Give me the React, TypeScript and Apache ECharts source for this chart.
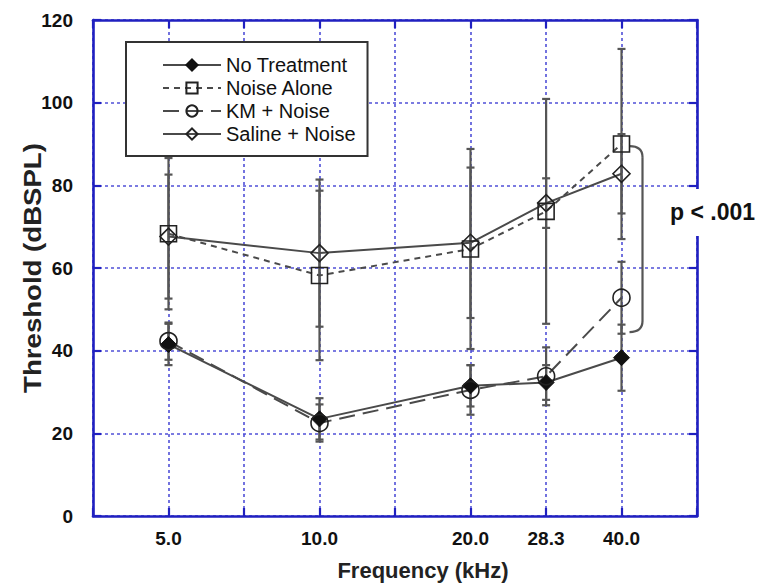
import React, { useEffect, useRef } from "react";
import * as echarts from "echarts";

// ---- data ----
const frequencies = [5, 10, 20, 28.3, 40];
const tickLabels = ["5.0", "10.0", "20.0", "28.3", "40.0"];
const seriesNames = ["No Treatment", "Noise Alone", "KM + Noise", "Saline + Noise"];

const noTreatment = [41.5, 23.5, 31.5, 32.3, 38.3];
const noTreatmentSD = [5, 5, 5, 4.2, 8];
const noiseAlone = [68.3, 58.2, 64.6, 73.7, 90];
const noiseAloneSD = [18.3, 20.5, 24.2, 27.2, 23];
const kmNoise = [42.3, 22.5, 30.5, 33.8, 52.8];
const kmNoiseSD = [4.5, 4.5, 6, 7, 8.7];
const salineNoise = [67.6, 63.6, 66.1, 75.7, 82.8];
const salineNoiseSD = [15, 17.8, 18.2, 6, 9.6];

const bracketFreq = 40;
const bracketTop = 89.5;
const bracketBottom = 44.5;
const pLabel = "p < .001";

const yTicks = [0, 20, 40, 60, 80, 100, 120];

// half-octave position relative to 5 kHz
const toX = (f: number) => 2 * Math.log2(f / 5);

const BLUE = "#2020c0";
const GRID = "#5050d8";
const LINE = "#4a4a4a";
const FONT = "'Liberation Sans', Arial, sans-serif";

export default function App() {
  const ref = useRef<HTMLDivElement>(null);

  useEffect(() => {
    if (!ref.current) return;
    const chart = echarts.init(ref.current, undefined, { renderer: "svg" });

    const mk = (vals: number[]) => frequencies.map((f, i) => [toX(f), vals[i]]);
    const mkErr = (vals: number[], sd: number[]) =>
      frequencies.map((f, i) => [toX(f), vals[i], sd[i]]);

    const errRender = (params: any, api: any) => {
      const x = api.value(0);
      const y = api.value(1);
      const e = api.value(2);
      const t = api.coord([x, y + e]);
      const b = api.coord([x, y - e]);
      const w = 4;
      const st = { stroke: "#555", lineWidth: 2.2 };
      return {
        type: "group",
        children: [
          { type: "line", shape: { x1: t[0], y1: t[1], x2: b[0], y2: b[1] }, style: st },
          { type: "line", shape: { x1: t[0] - w, y1: t[1], x2: t[0] + w, y2: t[1] }, style: st },
          { type: "line", shape: { x1: b[0] - w, y1: b[1], x2: b[0] + w, y2: b[1] }, style: st },
        ],
      };
    };

    const openStyle = { color: "rgba(255,255,255,0)", borderColor: "#222", borderWidth: 1.6 };

    const lineSeries = [
      {
        name: seriesNames[0], data: mk(noTreatment), symbol: "diamond", symbolSize: 16,
        itemStyle: { color: "#111", borderColor: "#111", borderWidth: 1 },
        lineStyle: { color: LINE, width: 2, type: "solid" },
      },
      {
        name: seriesNames[1], data: mk(noiseAlone), symbol: "rect", symbolSize: 16,
        itemStyle: openStyle,
        lineStyle: { color: LINE, width: 2, type: [6, 5] },
      },
      {
        name: seriesNames[2], data: mk(kmNoise), symbol: "circle", symbolSize: 17,
        itemStyle: openStyle,
        lineStyle: { color: LINE, width: 2, type: [16, 8] },
      },
      {
        name: seriesNames[3], data: mk(salineNoise), symbol: "diamond", symbolSize: 17,
        itemStyle: openStyle,
        lineStyle: { color: LINE, width: 2, type: "solid" },
      },
    ].map((s) => ({ ...s, type: "line", z: 5, showSymbol: true }));

    const errSeries = [
      mkErr(noTreatment, noTreatmentSD),
      mkErr(noiseAlone, noiseAloneSD),
      mkErr(kmNoise, kmNoiseSD),
      mkErr(salineNoise, salineNoiseSD),
    ].map((d, i) => ({
      type: "custom",
      name: "err" + i,
      data: d,
      encode: { x: 0, y: 1 },
      renderItem: errRender,
      z: 3,
      silent: true,
    }));

    const bracketSeries = {
      type: "custom",
      name: "bracket",
      data: [[toX(bracketFreq), bracketTop, bracketBottom]],
      encode: { x: 0, y: 1 },
      z: 4,
      silent: true,
      renderItem: (params: any, api: any) => {
        const x = api.value(0);
        const t = api.coord([x, api.value(1)]);
        const b = api.coord([x, api.value(2)]);
        const x0 = t[0] + 8;
        const x1 = t[0] + 21;
        const r = 11;
        const st = { stroke: "#555", lineWidth: 2.2, fill: "none" };
        return {
          type: "group",
          children: [
            { type: "bezierCurve", shape: { x1: x0, y1: t[1], cpx1: x1, cpy1: t[1], x2: x1, y2: t[1] + r }, style: st },
            { type: "line", shape: { x1: x1, y1: t[1] + r, x2: x1, y2: b[1] - r }, style: st },
            { type: "bezierCurve", shape: { x1: x1, y1: b[1] - r, cpx1: x1, cpy1: b[1], x2: x0, y2: b[1] }, style: st },
          ],
        };
      },
    };

    const xLabel = (v: number) => {
      const i = frequencies.findIndex((f) => Math.abs(toX(f) - v) < 0.05);
      return i >= 0 ? tickLabels[i] : "";
    };

    const axisLine = { show: true, onZero: false, lineStyle: { color: BLUE, width: 2.6 } };
    const axisTick = { show: true, inside: true, length: 8, lineStyle: { color: BLUE, width: 2.2 } };
    const splitLine = { show: true, lineStyle: { color: GRID, width: 1.6, type: [3, 3] } };

    chart.setOption({
      animation: false,
      backgroundColor: "#fff",
      grid: { left: 93, right: 69, top: 20, bottom: 68, containLabel: false },
      legend: {
        data: seriesNames,
        orient: "vertical",
        left: 126,
        top: 42,
        backgroundColor: "#fff",
        borderColor: "#333",
        borderWidth: 2,
        padding: [13, 12, 12, 36],
        itemWidth: 58,
        itemHeight: 14,
        itemGap: 3,
        textStyle: { fontFamily: FONT, fontSize: 20, color: "#111" },
        z: 10,
      },
      xAxis: [
        {
          type: "value", min: -1, max: 7, interval: 1, position: "bottom",
          axisLine, axisTick, splitLine,
          axisLabel: {
            formatter: xLabel, margin: 13, fontFamily: FONT, fontSize: 19,
            fontWeight: "bold", color: "#111", showMinLabel: true, showMaxLabel: true,
          },
        },
        {
          type: "value", min: -1, max: 7, interval: 1, position: "top",
          axisLine, axisTick, splitLine: { show: false }, axisLabel: { show: false },
        },
      ],
      yAxis: [
        {
          type: "value", min: 0, max: 120, interval: 20, position: "left",
          axisLine, axisTick, splitLine,
          axisLabel: {
            formatter: (v: number) => (yTicks.includes(v) ? String(v) : ""),
            margin: 20, fontFamily: FONT, fontSize: 19, fontWeight: "bold", color: "#111",
          },
        },
        {
          type: "value", min: 0, max: 120, interval: 20, position: "right",
          axisLine, axisTick, splitLine: { show: false }, axisLabel: { show: false },
        },
      ],
      graphic: [
        {
          type: "text", left: 668, top: 189, z: 100,
          style: {
            text: pLabel, fontFamily: FONT, fontSize: 23, fontWeight: "bold", fill: "#111",
            backgroundColor: "#fff", padding: [11, 2, 13, 2],
          },
        },
        {
          type: "text", x: 423, y: 570, z: 100,
          style: {
            text: "Frequency (kHz)", fontFamily: FONT, fontSize: 22, fontWeight: "bold",
            fill: "#222", textAlign: "center", textVerticalAlign: "middle",
          },
        },
        {
          type: "text", x: 33, y: 268, rotation: Math.PI / 2, scaleX: 1.2, z: 100,
          style: {
            text: "Threshold (dBSPL)", fontFamily: FONT, fontSize: 23, fontWeight: "bold",
            fill: "#222", textAlign: "center", textVerticalAlign: "middle",
          },
        },
      ],
      series: [...errSeries, bracketSeries, ...lineSeries],
    });

    return () => chart.dispose();
  }, []);

  return (
    <div
      ref={ref}
      style={{ position: "fixed", left: 0, top: 0, width: 766, height: 584, background: "#fff" }}
    />
  );
}
